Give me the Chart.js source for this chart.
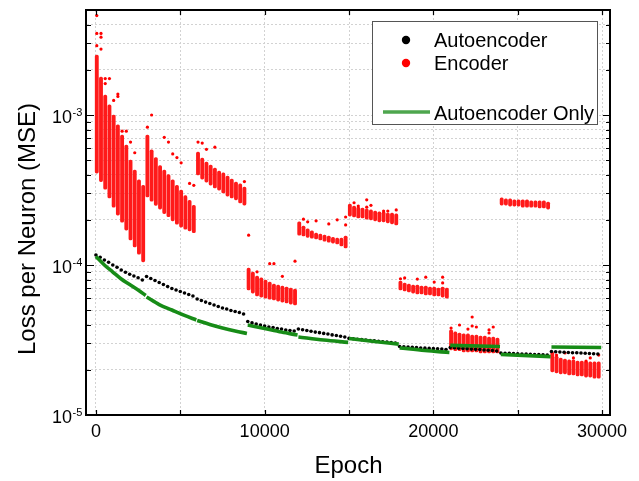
<!DOCTYPE html>
<html>
<head>
<meta charset="utf-8">
<script src="https://cdn.jsdelivr.net/npm/chart.js@4.4.1/dist/chart.umd.min.js"></script>
<style>
  html, body { margin: 0; padding: 0; background: #fff; }
  canvas { display: block; }
</style>
</head>
<body>
<canvas id="lossChart" width="639" height="481"></canvas>
<script>
// training runs in blocks of 3000 epochs
const blockStarts = [0, 3000, 6000, 9000, 12000, 15000, 18000, 21000, 24000, 27000];
// red columns inside each block (epoch offset from block start)
const columnOffsets = [50, 300, 550, 800, 1050, 1300, 1550, 1800, 2050, 2300, 2550, 2800];
// black dots inside each block
const autoencoderOffsets = [0, 250, 500, 750, 1000, 1250, 1500, 1750, 2000, 2250, 2500, 2750];

// Encoder: dense part of each column (bottom / top)
const encoderLow = [
  [4.1e-4, 3.6e-4, 3.2e-4, 2.8e-4, 2.43e-4, 2.15e-4, 1.93e-4, 1.71e-4, 1.47e-4, 1.32e-4, 1.18e-4, 1.05e-4],
  [2.84e-4, 2.66e-4, 2.5e-4, 2.36e-4, 2.2e-4, 2.1e-4, 1.97e-4, 1.87e-4, 1.79e-4, 1.73e-4, 1.69e-4, 1.64e-4],
  [3.98e-4, 3.74e-4, 3.57e-4, 3.41e-4, 3.26e-4, 3.16e-4, 3.02e-4, 2.88e-4, 2.8e-4, 2.72e-4, 2.59e-4, 2.51e-4],
  [6.81e-5, 6.5e-5, 6.21e-5, 6.11e-5, 6.01e-5, 5.92e-5, 5.85e-5, 5.75e-5, 5.66e-5, 5.58e-5, 5.49e-5, 5.41e-5],
  [1.58e-4, 1.56e-4, 1.53e-4, 1.51e-4, 1.49e-4, 1.47e-4, 1.44e-4, 1.42e-4, 1.40e-4, 1.38e-4, 1.34e-4, 1.30e-4],
  [2.12e-4, 2.09e-4, 2.06e-4, 2.06e-4, 2.02e-4, 2.0e-4, 1.97e-4, 1.94e-4, 1.94e-4, 1.91e-4, 1.88e-4, 1.85e-4],
  [6.81e-5, 6.71e-5, 6.61e-5, 6.5e-5, 6.41e-5, 6.41e-5, 6.31e-5, 6.31e-5, 6.21e-5, 6.21e-5, 6.11e-5, 6.01e-5],
  [2.72e-5, 2.68e-5, 2.68e-5, 2.63e-5, 2.63e-5, 2.63e-5, 2.63e-5, 2.59e-5, 2.59e-5, 2.59e-5, 2.59e-5, 2.59e-5],
  [2.51e-4, 2.51e-4, 2.47e-4, 2.47e-4, 2.47e-4, 2.43e-4, 2.43e-4, 2.43e-4, 2.43e-4, 2.4e-4, 2.4e-4, 2.36e-4],
  [1.94e-5, 1.91e-5, 1.88e-5, 1.88e-5, 1.85e-5, 1.85e-5, 1.82e-5, 1.82e-5, 1.79e-5, 1.79e-5, 1.76e-5, 1.76e-5]
];
const encoderHigh = [
  [2.51e-3, 1.79e-3, 1.36e-3, 1.17e-3, 1.0e-3, 8.6e-4, 7.36e-4, 6.3e-4, 5.0e-4, 4.3e-4, 3.7e-4, 3.4e-4],
  [7.36e-4, 5.85e-4, 5.2e-4, 4.6e-4, 4.3e-4, 4.0e-4, 3.7e-4, 3.4e-4, 3.16e-4, 2.9e-4, 2.7e-4, 2.5e-4],
  [5.67e-4, 5.17e-4, 4.86e-4, 4.64e-4, 4.43e-4, 4.23e-4, 4.11e-4, 3.92e-4, 3.74e-4, 3.57e-4, 3.47e-4, 3.31e-4],
  [9.55e-5, 8.98e-5, 8.45e-5, 8.2e-5, 7.94e-5, 7.7e-5, 7.47e-5, 7.36e-5, 7.24e-5, 7.13e-5, 7.02e-5, 6.92e-5],
  [1.94e-4, 1.82e-4, 1.74e-4, 1.69e-4, 1.63e-4, 1.61e-4, 1.58e-4, 1.56e-4, 1.53e-4, 1.51e-4, 1.51e-4, 1.56e-4],
  [2.55e-4, 2.47e-4, 2.43e-4, 2.40e-4, 2.36e-4, 2.33e-4, 2.29e-4, 2.26e-4, 2.26e-4, 2.22e-4, 2.22e-4, 2.19e-4],
  [7.82e-5, 7.59e-5, 7.47e-5, 7.36e-5, 7.36e-5, 7.24e-5, 7.24e-5, 7.13e-5, 7.13e-5, 7.02e-5, 7.13e-5, 7.02e-5],
  [3.69e-5, 3.58e-5, 3.52e-5, 3.47e-5, 3.47e-5, 3.41e-5, 3.41e-5, 3.36e-5, 3.36e-5, 3.31e-5, 3.31e-5, 3.26e-5],
  [2.8e-4, 2.76e-4, 2.76e-4, 2.72e-4, 2.72e-4, 2.72e-4, 2.72e-4, 2.68e-4, 2.68e-4, 2.68e-4, 2.68e-4, 2.63e-4],
  [2.63e-5, 2.47e-5, 2.4e-5, 2.36e-5, 2.33e-5, 2.33e-5, 2.29e-5, 2.29e-5, 2.29e-5, 2.26e-5, 2.26e-5, 2.26e-5]
];
// Encoder: loose points above the columns [epoch, loss]
const encoderStray = [
  [50, 4.6e-3], [50, 3.5e-3], [50, 2.9e-3], [300, 3.5e-3], [300, 3.3e-3], [300, 2.75e-3],
  [550, 1.75e-3], [550, 1.62e-3], [800, 1.75e-3], [1050, 1.25e-3], [1300, 1.38e-3], [1300, 1.33e-3],
  [1550, 7.8e-4], [1800, 7.8e-4], [2050, 6.6e-4], [2300, 5.6e-4],
  [3050, 8.3e-4], [3300, 1.0e-3], [4050, 7.1e-4], [4300, 6.6e-4], [4550, 5.5e-4], [4800, 5.2e-4],
  [5050, 4.8e-4], [5550, 3.5e-4], [5800, 3.4e-4],
  [6050, 6.6e-4], [6300, 6.5e-4], [6550, 5.9e-4], [7050, 6.1e-4], [8800, 3.6e-4],
  [9050, 1.58e-4], [9550, 9.0e-5], [10300, 1.02e-4], [10550, 1.02e-4], [11050, 8.4e-5], [11800, 1.06e-4],
  [12300, 2.02e-4], [12550, 1.94e-4], [13050, 1.97e-4], [13800, 1.88e-4], [14300, 2.0e-4],
  [14800, 1.85e-4], [14800, 2.09e-4],
  [15300, 2.6e-4], [15550, 2.47e-4], [16050, 2.72e-4], [16050, 2.43e-4], [16300, 2.5e-4],
  [17050, 2.29e-4], [17300, 2.29e-4], [17800, 2.33e-4],
  [18050, 8.1e-5], [18300, 8.2e-5], [19050, 8.06e-5], [19550, 8.3e-5], [20050, 7.7e-5],
  [20550, 8.3e-5], [20550, 7.6e-5],
  [21050, 3.8e-5], [21550, 3.98e-5], [22050, 3.74e-5], [22300, 4.5e-5], [22300, 3.92e-5],
  [22550, 3.86e-5], [23300, 3.69e-5], [23300, 3.52e-5], [23550, 3.86e-5],
  [27300, 2.51e-5], [27800, 2.59e-5], [28300, 2.4e-5], [29050, 2.29e-5], [29300, 2.4e-5], [29800, 2.51e-5]
];

// Autoencoder (black dots), 12 per block
const autoencoderLoss = [
  [1.166e-4, 1.126e-4, 1.08e-4, 1.042e-4, 1.0e-4, 9.65e-5, 9.26e-5, 8.94e-5, 8.67e-5, 8.45e-5, 8.23e-5, 7.94e-5],
  [8.38e-5, 8.13e-5, 7.88e-5, 7.64e-5, 7.41e-5, 7.19e-5, 6.97e-5, 6.81e-5, 6.66e-5, 6.51e-5, 6.36e-5, 6.21e-5],
  [5.93e-5, 5.80e-5, 5.66e-5, 5.54e-5, 5.41e-5, 5.29e-5, 5.17e-5, 5.09e-5, 4.97e-5, 4.90e-5, 4.82e-5, 4.71e-5],
  [4.20e-5, 4.11e-5, 4.04e-5, 3.98e-5, 3.92e-5, 3.86e-5, 3.83e-5, 3.77e-5, 3.74e-5, 3.69e-5, 3.66e-5, 3.63e-5],
  [3.74e-5, 3.70e-5, 3.66e-5, 3.62e-5, 3.57e-5, 3.54e-5, 3.50e-5, 3.47e-5, 3.42e-5, 3.39e-5, 3.35e-5, 3.31e-5],
  [3.24e-5, 3.22e-5, 3.20e-5, 3.18e-5, 3.16e-5, 3.14e-5, 3.12e-5, 3.10e-5, 3.08e-5, 3.06e-5, 3.04e-5, 3.02e-5],
  [2.86e-5, 2.85e-5, 2.84e-5, 2.83e-5, 2.82e-5, 2.80e-5, 2.79e-5, 2.78e-5, 2.77e-5, 2.76e-5, 2.75e-5, 2.73e-5],
  [2.82e-5, 2.81e-5, 2.79e-5, 2.78e-5, 2.77e-5, 2.75e-5, 2.74e-5, 2.73e-5, 2.71e-5, 2.70e-5, 2.69e-5, 2.67e-5],
  [2.59e-5, 2.58e-5, 2.58e-5, 2.57e-5, 2.56e-5, 2.55e-5, 2.55e-5, 2.54e-5, 2.53e-5, 2.53e-5, 2.52e-5, 2.51e-5],
  [2.65e-5, 2.64e-5, 2.63e-5, 2.62e-5, 2.61e-5, 2.60e-5, 2.60e-5, 2.59e-5, 2.58e-5, 2.57e-5, 2.56e-5, 2.55e-5]
];

// Autoencoder Only (green), one segment per block [epoch, loss]
const autoencoderOnly = [
  [[0, 1.14e-4], [500, 1.0e-4], [1000, 8.98e-5], [1500, 8.06e-5], [2000, 7.41e-5], [2500, 6.81e-5], [2950, 6.26e-5]],
  [[3000, 6.12e-5], [3750, 5.45e-5], [4500, 5.01e-5], [5250, 4.61e-5], [5950, 4.30e-5]],
  [[6000, 4.27e-5], [6750, 4.01e-5], [7500, 3.80e-5], [8250, 3.63e-5], [8950, 3.50e-5]],
  [[9000, 3.98e-5], [10000, 3.77e-5], [11000, 3.57e-5], [11950, 3.41e-5]],
  [[12000, 3.31e-5], [13500, 3.16e-5], [14950, 3.05e-5]],
  [[15000, 3.24e-5], [16500, 3.09e-5], [17950, 2.97e-5]],
  [[18000, 2.80e-5], [19500, 2.69e-5], [20950, 2.61e-5]],
  [[21000, 2.91e-5], [23950, 2.86e-5]],
  [[24000, 2.53e-5], [26950, 2.45e-5]],
  [[27000, 2.84e-5], [29950, 2.82e-5]]
];

const xTicks = [0, 5000, 10000, 15000, 20000, 25000, 30000];
const xLabels = [0, 10000, 20000, 30000];
const yTicks = [
  1e-5, 2e-5, 3e-5, 4e-5, 5e-5, 6e-5, 7e-5, 8e-5, 9e-5,
  1e-4, 2e-4, 3e-4, 4e-4, 5e-4, 6e-4, 7e-4, 8e-4, 9e-4,
  1e-3, 2e-3, 3e-3, 4e-3
];
const yLabels = [1e-5, 1e-4, 1e-3];

const FONT = "'Liberation Sans', Arial, sans-serif";

// build datasets
const barData = [];
blockStarts.forEach((start, b) => {
  columnOffsets.forEach((off, k) => {
    barData.push({ x: start + off, y: [encoderLow[b][k], encoderHigh[b][k]] });
  });
});
const blackData = [];
blockStarts.forEach((start, b) => {
  autoencoderOffsets.forEach((off, k) => {
    blackData.push({ x: start + off, y: autoencoderLoss[b][k] });
  });
});

const datasets = [];
autoencoderOnly.forEach((seg) => {
  datasets.push({
    type: "line",
    data: seg.map(([x, y]) => ({ x, y })),
    borderColor: "#178c17",
    borderWidth: 3.6,
    pointRadius: 0,
    cubicInterpolationMode: "monotone",
    order: 0,
  });
});
datasets.push({
  type: "scatter",
  data: blackData,
  pointRadius: 1.8,
  pointBackgroundColor: "#000",
  pointBorderWidth: 0,
  order: 1,
});
datasets.push({
  type: "scatter",
  data: encoderStray.map(([x, y]) => ({ x, y })),
  pointRadius: 1.6,
  pointBackgroundColor: "#ff0000",
  pointBorderWidth: 0,
  order: 2,
});
datasets.push({
  type: "bar",
  data: barData,
  backgroundColor: "#ff1a1a",
  barThickness: 3.2,
  borderRadius: 1.6,
  borderSkipped: false,
  order: 3,
});

const decorations = {
  id: "decorations",
  afterDraw(chart) {
    const ctx = chart.ctx;
    const xs = chart.scales.x;
    const ys = chart.scales.y;
    const a = chart.chartArea;
    ctx.save();

    // frame
    ctx.strokeStyle = "#000";
    ctx.lineWidth = 2;
    ctx.strokeRect(a.left - 1, a.top, a.right - a.left + 1, a.bottom - a.top);

    // ticks on all four sides, pointing inward
    ctx.lineWidth = 1.2;
    ctx.beginPath();
    xTicks.forEach((v) => {
      const px = Math.round(xs.getPixelForValue(v)) + 0.5;
      ctx.moveTo(px, a.bottom); ctx.lineTo(px, a.bottom - 5);
      ctx.moveTo(px, a.top); ctx.lineTo(px, a.top + 5);
    });
    yTicks.forEach((v) => {
      const py = Math.round(ys.getPixelForValue(v)) + 0.5;
      const len = yLabels.includes(v) ? 7 : 4;
      ctx.moveTo(a.left, py); ctx.lineTo(a.left + len, py);
      ctx.moveTo(a.right, py); ctx.lineTo(a.right - len, py);
    });
    ctx.stroke();

    // tick labels
    ctx.fillStyle = "#000";
    ctx.font = "18px " + FONT;
    ctx.textBaseline = "alphabetic";
    ctx.textAlign = "center";
    xLabels.forEach((v) => {
      ctx.fillText(String(v), xs.getPixelForValue(v), a.bottom + 22);
    });
    yLabels.forEach((v) => {
      const py = ys.getPixelForValue(v);
      ctx.font = "18px " + FONT;
      ctx.textAlign = "right";
      ctx.fillText("10", 72, py + 7.5);
      ctx.font = "11px " + FONT;
      ctx.textAlign = "left";
      ctx.fillText("-" + Math.round(-Math.log10(v)), 72.5, py + 0.5);
    });

    // axis titles
    ctx.font = "24px " + FONT;
    ctx.textAlign = "center";
    ctx.fillText("Epoch", (a.left + a.right) / 2, 473);
    ctx.save();
    ctx.translate(35, 229);
    ctx.rotate(-Math.PI / 2);
    ctx.fillText("Loss per Neuron (MSE)", 0, 0);
    ctx.restore();

    // legend
    ctx.fillStyle = "#fff";
    ctx.fillRect(372, 21, 226, 104);
    ctx.strokeStyle = "#555";
    ctx.lineWidth = 1;
    ctx.strokeRect(372.5, 21.5, 225, 103);
    ctx.fillStyle = "#000";
    ctx.beginPath(); ctx.arc(406, 40, 4.2, 0, Math.PI * 2); ctx.fill();
    ctx.fillStyle = "#ff0000";
    ctx.beginPath(); ctx.arc(406, 63, 4.2, 0, Math.PI * 2); ctx.fill();
    ctx.strokeStyle = "#4ea64e";
    ctx.lineWidth = 3.5;
    ctx.beginPath(); ctx.moveTo(383, 112); ctx.lineTo(430, 112); ctx.stroke();
    ctx.fillStyle = "#000";
    ctx.font = "20px " + FONT;
    ctx.textAlign = "left";
    ctx.fillText("Autoencoder", 434, 46.5);
    ctx.fillText("Encoder", 434, 69.5);
    ctx.fillText("Autoencoder Only", 434, 119.5);

    ctx.restore();
  },
};

new Chart(document.getElementById("lossChart"), {
  type: "scatter",
  data: { datasets },
  options: {
    responsive: false,
    animation: false,
    devicePixelRatio: 1,
    layout: { padding: { left: 0, right: 29, top: 10, bottom: 0 } },
    plugins: { legend: { display: false }, tooltip: { enabled: false } },
    scales: {
      x: {
        type: "linear",
        min: -530,
        max: 30470,
        offset: false,
        afterBuildTicks: (s) => { s.ticks = xTicks.map((v) => ({ value: v })); },
        afterFit: (s) => { s.height = 66; },
        ticks: { display: false },
        grid: { color: "#d2d2d2", lineWidth: 1, drawTicks: false, offset: false },
        border: { display: false, dash: [2, 2] },
      },
      y: {
        type: "logarithmic",
        min: 1e-5,
        max: 5.012e-3,
        afterBuildTicks: (s) => { s.ticks = yTicks.map((v) => ({ value: v })); },
        afterFit: (s) => { s.width = 87; },
        ticks: { display: false },
        grid: { color: "#d2d2d2", lineWidth: 1, drawTicks: false },
        border: { display: false, dash: [2, 2] },
      },
    },
  },
  plugins: [decorations],
});
</script>
</body>
</html>
